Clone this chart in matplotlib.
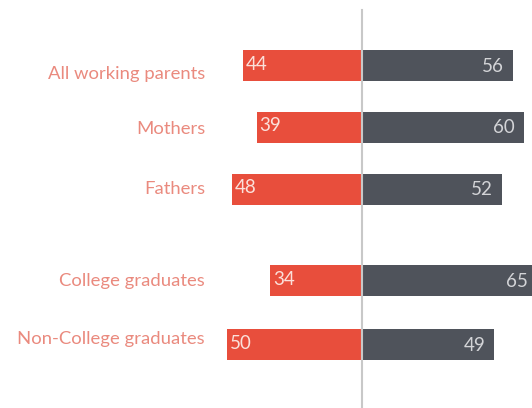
import matplotlib
matplotlib.use("Agg")
import matplotlib.pyplot as plt

categories = ["All working parents", "Mothers", "Fathers", "College graduates", "Non-College graduates"]
red_values = [44, 39, 48, 34, 50]
dark_values = [56, 60, 52, 65, 49]
positions = [0, 1, 2, 3.48, 4.52]

RED = "#e84e3c"
DARK = "#4f535b"
LABEL = "#ea8a7e"

W, H = 532, 408
fig = plt.figure(figsize=(W / 100, H / 100), dpi=100)
ax = fig.add_axes([0, 0, 1, 1])
ppu = 2.7
cx = 362
ax.set_xlim(-cx / ppu, (W - cx) / ppu)
unit = 61.8
top = 65.5
ax.set_ylim((H - top) / unit, -top / unit)
ax.axis("off")

ax.barh(positions, [-v for v in red_values], height=0.5, color=RED, zorder=2)
ax.barh(positions, dark_values, height=0.5, color=DARK, zorder=2)
ax.plot([0, 0], [(10 - top) / unit, (H - top) / unit], color="#c8c8c8", lw=1.5, zorder=3)

# per-row vertical offset of the category labels (pixels)
label_dy = [8.5, 2, 0, 0, -6]

font = "Lato"
for p, c, r, d, dy in zip(positions, categories, red_values, dark_values, label_dy):
    ax.text((205 - cx) / ppu, p + dy / unit, c, ha="right", va="center", color=LABEL,
            fontsize=13.3, family=font)
    ax.text(-r + 1.0, p - 1.5 / unit, str(r), ha="left", va="center", color="#fbe0da",
            fontsize=13.5, family=font, zorder=4)
    ax.text(d - 3.4, p + 0.5 / unit, str(d), ha="right", va="center", color="#d3d4d7",
            fontsize=13.5, family=font, zorder=4)

fig.savefig("out.png", dpi=100)
